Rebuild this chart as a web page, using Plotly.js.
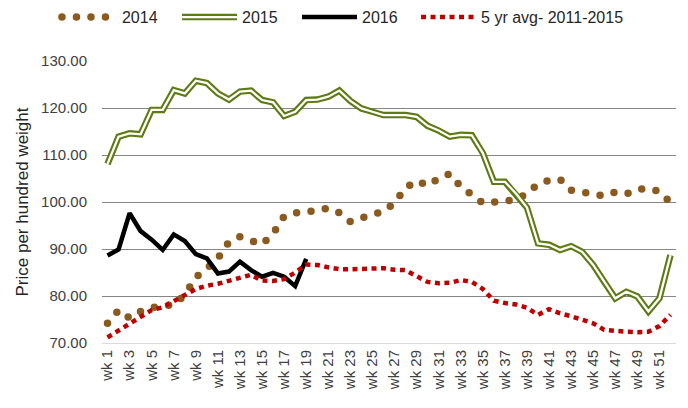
<!DOCTYPE html>
<html>
<head>
<meta charset="utf-8">
<script src="https://cdn.plot.ly/plotly-3.0.1.min.js"></script>
<style>
  html, body { margin: 0; padding: 0; background: #fff; }
  #chart { width: 688px; height: 408px; }
  .scatterlayer .trace:nth-of-type(1) path.js-line { stroke-linecap: round; }
  .legend .traces:nth-of-type(1) path.js-line { stroke-linecap: round; }
</style>
</head>
<body>
<div id="chart"></div>
<script>
const weeks = ["wk 1","wk 2","wk 3","wk 4","wk 5","wk 6","wk 7","wk 8","wk 9","wk 10",
  "wk 11","wk 12","wk 13","wk 14","wk 15","wk 16","wk 17","wk 18","wk 19","wk 20",
  "wk 21","wk 22","wk 23","wk 24","wk 25","wk 26","wk 27","wk 28","wk 29","wk 30",
  "wk 31","wk 32","wk 33","wk 34","wk 35","wk 36","wk 37","wk 38","wk 39","wk 40",
  "wk 41","wk 42","wk 43","wk 44","wk 45","wk 46","wk 47","wk 48","wk 49","wk 50",
  "wk 51","wk 52"];

const tickLabels = ["wk 1","wk 3","wk 5","wk 7","wk 9","wk 11","wk 13","wk 15","wk 17","wk 19",
  "wk 21","wk 23","wk 25","wk 27","wk 29","wk 31","wk 33","wk 35","wk 37","wk 39",
  "wk 41","wk 43","wk 45","wk 47","wk 49","wk 51"];

const y2014 = [74.2,77.0,75.3,76.7,77.5,77.8,78.2,80.2,84.0,85.8,
  88.0,91.5,92.6,91.8,91.0,93.3,97.0,97.7,97.8,98.3,
  98.7,97.7,95.8,96.6,97.2,98.0,99.8,103.0,104.5,103.5,
  105.0,106.0,103.3,101.4,99.8,100.0,100.3,100.5,101.8,103.8,
  104.6,104.8,102.5,102.2,101.8,101.3,102.1,101.7,102.7,102.9,
  102.2,99.9];

const y2015 = [108.1,113.9,114.6,114.4,119.6,119.6,123.8,123.1,125.8,125.3,
  123.1,121.8,123.5,123.7,121.7,121.2,118.3,119.2,121.7,121.8,
  122.4,123.7,121.5,119.9,119.2,118.5,118.5,118.5,118.1,116.2,
  115.2,113.9,114.3,114.2,110.4,104.3,104.3,101.8,98.8,91.2,
  90.9,89.8,90.6,89.4,86.6,83.0,79.5,80.9,79.9,76.7,
  79.5,88.7];

const y2016 = [88.6,89.9,97.6,93.8,92.0,89.8,93.1,91.7,88.9,88.0,
  84.8,85.2,87.3,85.5,84.1,84.9,84.1,82.1,87.9];

const yAvg = [71.2,72.6,74.0,75.6,77.0,77.6,78.8,80.2,81.5,82.2,
  82.6,83.2,83.8,84.5,83.3,83.2,83.6,85.0,86.7,86.6,
  86.1,85.7,85.7,85.8,85.8,85.9,85.6,85.5,84.2,83.0,
  82.7,82.8,83.4,83.0,81.5,79.0,78.5,78.2,77.5,76.0,
  77.2,76.3,75.7,75.0,74.2,72.8,72.5,72.4,72.3,72.4,
  73.6,76.0];

const seriesNames = ["2014", "2015", "2016", "5 yr avg- 2011-2015"];
const FONT = "Liberation Sans, Arial, sans-serif";

const traces = [
  { x: weeks, y: y2014, name: seriesNames[0], type: "scatter", mode: "lines", legend: "legend",
    line: { color: "#8B5A1E", width: 7.5, dash: "0px,14.5px" } },
  { x: weeks, y: y2015, name: seriesNames[1], type: "scatter", mode: "lines", legend: "legend2",
    line: { color: "#5E7A12", width: 6.5 } },
  { x: weeks, y: y2015, name: seriesNames[1], type: "scatter", mode: "lines",
    showlegend: false, hoverinfo: "skip",
    line: { color: "#ffffff", width: 2.3 } },
  { x: weeks.slice(0, y2016.length), y: y2016, name: seriesNames[2], type: "scatter", mode: "lines", legend: "legend3",
    line: { color: "#000000", width: 4.5 } },
  { x: weeks, y: yAvg, name: seriesNames[3], type: "scatter", mode: "lines", legend: "legend4",
    line: { color: "#C00000", width: 4.5, dash: "5px,4.5px" } }
];

function legendAt(xFrac) {
  return {
    orientation: "h", xref: "container", yref: "container",
    x: xFrac, xanchor: "left", y: 0.958, yanchor: "middle",
    font: { family: FONT, size: 16, color: "#262626" },
    itemwidth: 55, bgcolor: "rgba(0,0,0,0)", borderwidth: 0
  };
}

const layout = {
  width: 688, height: 408,
  margin: { l: 102, r: 12, t: 61, b: 65, pad: 0 },
  paper_bgcolor: "#ffffff", plot_bgcolor: "#ffffff",
  font: { family: FONT, size: 15, color: "#404040" },
  showlegend: true,
  legend: legendAt(0.0828),
  legend2: legendAt(0.2573),
  legend3: legendAt(0.4317),
  legend4: legendAt(0.6047),
  xaxis: {
    type: "category", range: [-0.5, 51.5],
    tickmode: "array", tickvals: tickLabels, ticktext: tickLabels,
    tickangle: -90, tickfont: { family: FONT, size: 15, color: "#404040" },
    showgrid: false, zeroline: false,
    showline: true, linecolor: "#d9d9d9", linewidth: 1,
    ticks: "", fixedrange: true
  },
  yaxis: {
    range: [70, 130], dtick: 10, tick0: 70, tickformat: ".2f",
    tickfont: { family: FONT, size: 15, color: "#404040" },
    showgrid: true, gridcolor: "#868686", gridwidth: 1,
    zeroline: false, showline: false, ticks: "",
    ticklabelstandoff: 14,
    title: { text: "Price per hundred weight", font: { family: FONT, size: 17, color: "#262626" }, standoff: 8 },
    fixedrange: true
  }
};

// give the 2015 legend symbol its white inner stripe (double line)
function addStripe() {
  const groups = document.querySelectorAll("g.legend2 g.traces");
  groups.forEach(function (g) {
    const lines = g.querySelector("g.legendlines") || g;
    if (lines.querySelector("path.stripe")) return;
    const p = lines.querySelector("path.js-line");
    if (!p) return;
    const c = p.cloneNode(true);
    c.setAttribute("class", "stripe");
    c.style.stroke = "#ffffff";
    c.style.strokeWidth = "2.3px";
    c.style.strokeDasharray = "";
    p.parentNode.appendChild(c);
  });
}

const gd = document.getElementById("chart");
Plotly.newPlot(gd, traces, layout, { staticPlot: true, displayModeBar: false }).then(function () {
  addStripe();
  setTimeout(addStripe, 50);
  setTimeout(addStripe, 300);
});
if (gd.on) gd.on("plotly_afterplot", addStripe);
</script>
</body>
</html>
